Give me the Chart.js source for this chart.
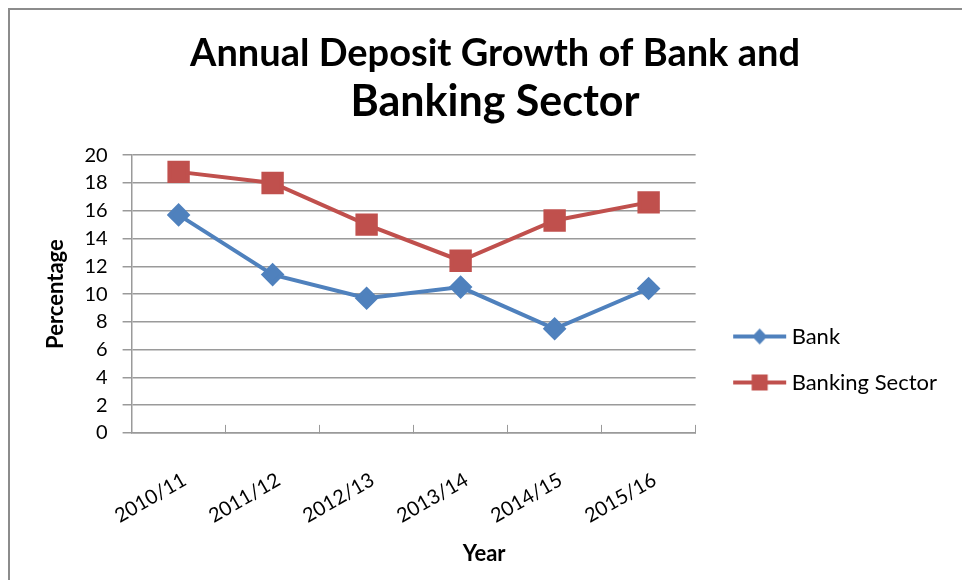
<!DOCTYPE html>
<html>
<head>
<meta charset="utf-8">
<script src="https://cdn.jsdelivr.net/npm/chart.js@4.4.1/dist/chart.umd.min.js"></script>
<style>
  html, body { margin: 0; padding: 0; background: #fff; overflow: hidden; }
  #wrap { position: relative; width: 962px; height: 580px; }
  #frame { position: absolute; left: 8px; top: 8px; width: 1000px; height: 1000px;
           border: 2px solid #8c8c8c; box-sizing: border-box; }
  #chart { position: absolute; left: 0; top: 0; }
</style>
</head>
<body>
<div id="wrap">
  <div id="frame"></div>
  <canvas id="chart" width="962" height="580"></canvas>
</div>
<script>
const years = ['2010/11', '2011/12', '2012/13', '2013/14', '2014/15', '2015/16']
const bank = [15.7, 11.4, 9.7, 10.5, 7.5, 10.4]
const bankingSector = [18.8, 18.0, 15.0, 12.4, 15.3, 16.6]

const BLUE = '#4f81bd'
const RED = '#c0504d'
const GRID = '#9a9a9a'
const FONT = 'Lato, "Open Sans", sans-serif'

// line + marker swatch for the legend; left part of the canvas is blank
// so the swatch sits a bit away from the plot like the original
function legendSwatch(color, shape) {
  const c = document.createElement('canvas')
  c.width = 74
  c.height = 20
  const ctx = c.getContext('2d')
  ctx.strokeStyle = color
  ctx.lineWidth = 4
  ctx.beginPath()
  ctx.moveTo(20, 10)
  ctx.lineTo(73, 10)
  ctx.stroke()
  ctx.fillStyle = color
  if (shape === 'diamond') {
    ctx.beginPath()
    ctx.moveTo(46.5, 2)
    ctx.lineTo(54, 10)
    ctx.lineTo(46.5, 18)
    ctx.lineTo(39, 10)
    ctx.closePath()
    ctx.fill()
  } else {
    ctx.fillRect(38.5, 2, 16, 16)
  }
  return c
}

const swatches = [legendSwatch(BLUE, 'diamond'), legendSwatch(RED, 'square')]

// x axis title sits right of centre in the original
const xTitle = {
  id: 'xTitle',
  afterDraw(chart) {
    const {ctx, chartArea} = chart
    ctx.save()
    ctx.font = 'bold 22px ' + FONT
    ctx.fillStyle = '#000'
    ctx.textAlign = 'center'
    ctx.textBaseline = 'middle'
    ctx.fillText('Year', chartArea.left + (chartArea.right - chartArea.left) * 0.625, 554)
    ctx.restore()
  }
}

new Chart(document.getElementById('chart'), {
  type: 'line',
  data: {
    labels: years,
    datasets: [
      {
        label: 'Bank',
        data: bank,
        borderColor: BLUE,
        backgroundColor: BLUE,
        borderWidth: 4,
        pointStyle: 'rectRot',
        pointRadius: 9,
        pointHoverRadius: 9,
        tension: 0
      },
      {
        label: 'Banking Sector',
        data: bankingSector,
        borderColor: RED,
        backgroundColor: RED,
        borderWidth: 4,
        pointStyle: 'rect',
        pointRadius: 13,
        pointHoverRadius: 13,
        tension: 0
      }
    ]
  },
  options: {
    responsive: false,
    animation: false,
    layout: { padding: { top: 20, left: 43, right: 15, bottom: 9 } },
    plugins: {
      title: {
        display: true,
        text: 'Annual Deposit Growth of Bank and',
        color: '#000',
        font: { family: FONT, size: 38, weight: 'bold' },
        padding: { top: 11, bottom: 0 }
      },
      subtitle: {
        display: true,
        text: 'Banking Sector',
        color: '#000',
        font: { family: FONT, size: 43, weight: 'bold' },
        padding: { top: 0, bottom: 27 }
      },
      legend: {
        position: 'right',
        maxWidth: 300,
        title: { display: true, text: ' ', padding: { top: 116, bottom: 0 }, font: { size: 10 } },
        labels: {
          usePointStyle: true,
          pointStyleWidth: 61,
          padding: 24,
          color: '#000',
          font: { family: FONT, size: 22 },
          generateLabels(chart) {
            const items = Chart.defaults.plugins.legend.labels.generateLabels(chart)
            items.forEach((it, i) => { it.pointStyle = swatches[i] })
            return items
          }
        }
      },
      tooltip: { enabled: false }
    },
    scales: {
      x: {
        offset: true,
        grid: {
          offset: true,
          drawOnChartArea: false,
          drawTicks: true,
          tickLength: -8,
          color: GRID
        },
        border: { color: GRID, width: 1.5 },
        ticks: {
          color: '#000',
          font: { family: FONT, size: 20 },
          maxRotation: 30,
          minRotation: 30,
          labelOffset: 6,
          padding: 43
        }
      },
      y: {
        min: 0,
        max: 20,
        ticks: {
          stepSize: 2,
          autoSkip: false,
          color: '#000',
          font: { family: FONT, size: 20 },
          padding: 15
        },
        grid: { color: GRID, lineWidth: 1.5, tickLength: 9 },
        border: { color: GRID, width: 1.5 },
        title: {
          display: true,
          text: 'Percentage',
          color: '#000',
          font: { family: FONT, size: 22, weight: 'bold' },
          padding: { top: 0, bottom: 0 }
        }
      }
    }
  },
  plugins: [xTitle]
})
</script>
</body>
</html>
